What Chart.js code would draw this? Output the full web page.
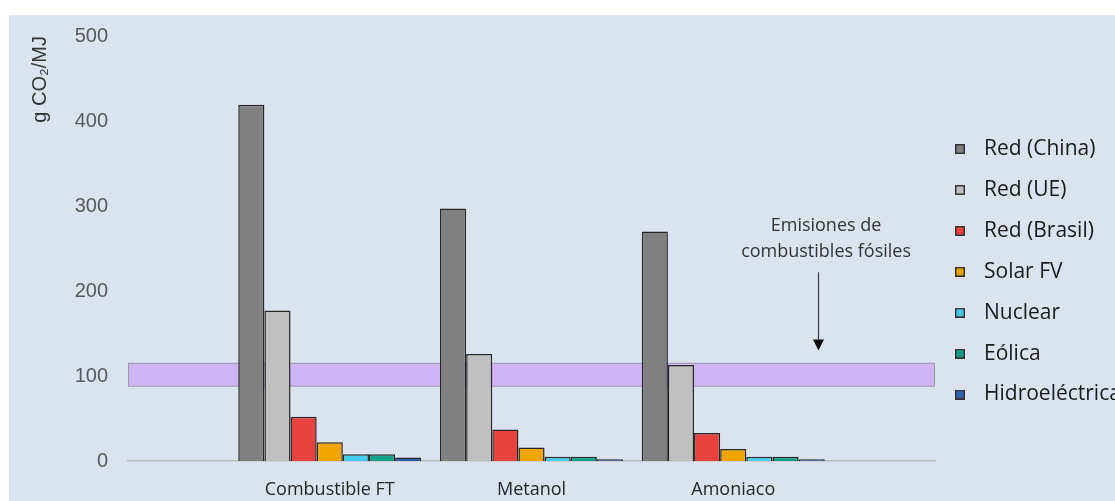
<!DOCTYPE html>
<html>
<head>
<meta charset="utf-8">
<script src="https://cdn.jsdelivr.net/npm/chart.js@4.4.1/dist/chart.umd.min.js"></script>
<style>
  html, body { margin: 0; padding: 0; background: #ffffff; }
  body { width: 1115px; height: 501px; position: relative; overflow: hidden; }
  #wrap { position: absolute; left: 9px; top: 15px; width: 1106px; height: 486px; background: #dce3f0; }
  canvas { display: block; }
</style>
</head>
<body>
<div id="wrap"><canvas id="chart" width="1106" height="486"></canvas></div>
<script>
// Emisiones del ciclo de vida por combustible y fuente de electricidad (g CO2/MJ)
const categories = ['Combustible FT', 'Metanol', 'Amoniaco'];
const seriesNames = ['Red (China)', 'Red (UE)', 'Red (Brasil)', 'Solar FV', 'Nuclear', 'Eólica', 'Hidroeléctrica'];
const redChina  = [419, 297, 270];
const redUE     = [177, 126, 113];
const redBrasil = [52, 37, 33];
const solarFV   = [22, 16, 14];
const nuclear   = [8, 5, 5];
const eolica    = [8, 5, 5];
const hidro     = [4, 2, 2];
const seriesColors = ['#808080', '#c0c0c0', '#e8423f', '#f0a500', '#42cdee', '#12a08b', '#2f62b2'];

const yTicks = [0, 100, 200, 300, 400, 500];
const yTitle = 'g CO\u2082/MJ';

// Franja de emisiones de combustibles fósiles y su nota
const fossilBand = [88, 115];
const noteLines = ['Emisiones de', 'combustibles fósiles'];
const noteX = 3.46;          // posición sobre el eje de categorías
const noteY = [277, 246];    // centro de cada línea de la nota
const arrowX = 3.42;
const arrowFrom = 222;
const arrowTo = 130;

// Eje de categorías con un hueco a cada lado
const xLabels = ['', ...categories, ''];
const pad = values => [null, ...values, null];
const seriesValues = [redChina, redUE, redBrasil, solarFV, nuclear, eolica, hidro];

// Cuadradito de leyenda con borde oscuro
function swatch(color) {
  const c = document.createElement('canvas');
  c.width = 10; c.height = 10;
  const g = c.getContext('2d');
  g.fillStyle = color;
  g.fillRect(0, 0, 10, 10);
  g.strokeStyle = '#333333';
  g.lineWidth = 1.5;
  g.strokeRect(0.75, 0.75, 8.5, 8.5);
  return c;
}

const fossilPlugin = {
  id: 'fossilBand',
  beforeDatasetsDraw(chart) {
    const { ctx, chartArea, scales } = chart;
    const yTop = scales.y.getPixelForValue(fossilBand[1]);
    const yBot = scales.y.getPixelForValue(fossilBand[0]);
    ctx.save();
    ctx.fillStyle = '#cfb4f4';
    ctx.fillRect(chartArea.left, yTop, chartArea.right - chartArea.left, yBot - yTop);
    ctx.strokeStyle = '#9b97a6';
    ctx.lineWidth = 1;
    ctx.strokeRect(chartArea.left + 0.5, yTop, chartArea.right - chartArea.left - 1, yBot - yTop);
    ctx.restore();
  },
  afterDatasetsDraw(chart) {
    const { ctx, scales } = chart;
    ctx.save();
    ctx.font = '18px "Open Sans"';
    ctx.fillStyle = '#333333';
    ctx.textAlign = 'center';
    ctx.textBaseline = 'middle';
    const tx = scales.x.getPixelForValue(noteX);
    noteLines.forEach((t, i) => ctx.fillText(t, tx, scales.y.getPixelForValue(noteY[i])));

    const ax = Math.round(scales.x.getPixelForValue(arrowX)) + 0.5;
    const y0 = scales.y.getPixelForValue(arrowFrom);
    const y1 = scales.y.getPixelForValue(arrowTo);
    ctx.strokeStyle = '#3a3a3a';
    ctx.lineWidth = 1.2;
    ctx.beginPath();
    ctx.moveTo(ax, y0);
    ctx.lineTo(ax, y1 - 10);
    ctx.stroke();
    ctx.fillStyle = '#111111';
    ctx.beginPath();
    ctx.moveTo(ax - 5.5, y1 - 11);
    ctx.lineTo(ax + 5.5, y1 - 11);
    ctx.lineTo(ax, y1);
    ctx.closePath();
    ctx.fill();
    ctx.restore();
  }
};

new Chart(document.getElementById('chart'), {
  type: 'bar',
  data: {
    labels: xLabels,
    datasets: seriesNames.map((name, i) => ({
      label: name,
      data: pad(seriesValues[i]),
      backgroundColor: seriesColors[i],
      borderColor: '#262626',
      borderWidth: 1.5,
      categoryPercentage: 0.907,
      barPercentage: 1
    }))
  },
  options: {
    responsive: false,
    animation: false,
    events: [],
    layout: { padding: 0 },
    scales: {
      x: {
        type: 'category',
        offset: false,
        grid: { display: false, drawTicks: false },
        border: { display: true, color: '#bcbcbc', width: 1.5 },
        ticks: {
          autoSkip: false,
          maxRotation: 0,
          padding: 18,
          color: '#262626',
          font: { family: '"Open Sans"', size: 18 }
        },
        afterFit(scale) { scale.height = 40; }
      },
      y: {
        min: yTicks[0],
        max: yTicks[yTicks.length - 1],
        grid: { display: false, drawTicks: false },
        border: { display: false },
        afterBuildTicks(scale) { scale.ticks = yTicks.map(v => ({ value: v })); },
        ticks: {
          padding: 20,
          color: '#595959',
          font: { family: '"Liberation Sans", Arial', size: 20 }
        },
        title: {
          display: true,
          text: yTitle,
          align: 'end',
          color: '#333333',
          font: { family: '"Liberation Sans", Arial', size: 20 },
          padding: { top: 19, bottom: 0 }
        },
        afterFit(scale) {
          scale.width = 119;
          scale.paddingTop = 21;
          scale.paddingBottom = 0;
        }
      }
    },
    plugins: {
      tooltip: { enabled: false },
      legend: {
        position: 'right',
        align: 'center',
        maxWidth: 180,
        title: { display: true, text: '', font: { size: 10, lineHeight: 1 }, padding: 13 },
        labels: {
          color: '#1a1a1a',
          font: { family: '"Open Sans"', size: 21, lineHeight: 1.4 },
          padding: 11.5,
          usePointStyle: true,
          pointStyleWidth: 27,
          generateLabels(chart) {
            const items = Chart.defaults.plugins.legend.labels.generateLabels(chart);
            return items.map((item, i) => Object.assign(item, {
              text: [item.text],
              pointStyle: swatch(seriesColors[i])
            }));
          }
        }
      }
    }
  },
  plugins: [fossilPlugin]
});
</script>
</body>
</html>
